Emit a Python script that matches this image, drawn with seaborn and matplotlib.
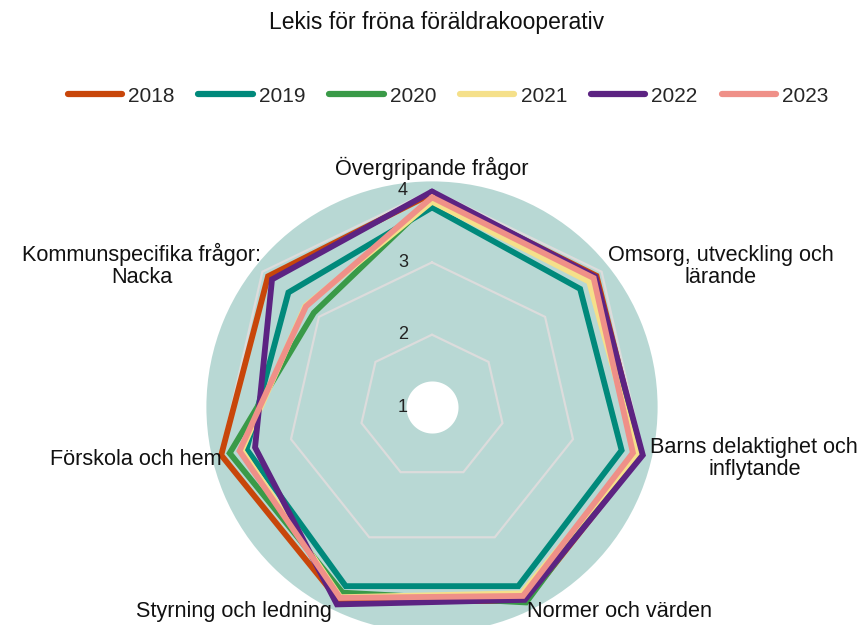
import numpy as np
import pandas as pd
import matplotlib
matplotlib.use("Agg")
import matplotlib.pyplot as plt
import seaborn as sns

categories = [
    "Övergripande frågor",
    "Omsorg, utveckling och\nlärande",
    "Barns delaktighet och\ninflytande",
    "Normer och värden",
    "Styrning och ledning",
    "Förskola och hem",
    "Kommunspecifika frågor:\nNacka",
]
years = ["2018", "2019", "2020", "2021", "2022", "2023"]
v2018 = [3.95, 3.91, 3.97, 3.98, 3.97, 3.99, 3.90]
v2019 = [3.76, 3.62, 3.69, 3.75, 3.75, 3.63, 3.54]
v2020 = [3.87, 3.88, 3.90, 4.00, 3.85, 3.87, 3.09]
v2021 = [3.84, 3.78, 3.91, 3.86, 3.92, 3.70, 3.24]
v2022 = [3.98, 3.89, 3.99, 3.96, 4.03, 3.51, 3.83]
v2023 = [3.90, 3.86, 3.85, 3.90, 3.93, 3.73, 3.23]
series = [v2018, v2019, v2020, v2021, v2022, v2023]
colors = ["#c8460a", "#00897b", "#3a9a48", "#f5e08a", "#5c2382", "#ef9088"]
ticks = [1, 2, 3, 4]
title = "Lekis för fröna föräldrakooperativ"

sns.set_theme(style="white")
plt.rcParams["font.family"] = ["Liberation Sans", "DejaVu Sans"]

n = len(categories)
angles = np.linspace(0, 2 * np.pi, n, endpoint=False)
closed = np.append(angles, angles[0])

rows = []
for y, vals in zip(years, series):
    for i, a in enumerate(closed):
        rows.append({"year": y, "theta": a, "value": vals[i % n], "order": i})
df = pd.DataFrame(rows)

W, H = 863, 625
fig = plt.figure(figsize=(W / 100, H / 100), dpi=100)
cx, cy, R = 432, 407, 225.6
ax = fig.add_axes([(cx - R) / W, (H - cy - R) / H, 2 * R / W, 2 * R / H], projection="polar")
ax.set_theta_offset(np.pi / 2)
ax.set_theta_direction(-1)
ax.set_ylim(1, 4.12)
ax.set_facecolor("#b8d8d4")
ax.spines["polar"].set_visible(False)
ax.grid(False)
ax.set_xticks([])
ax.set_yticks([])

# polygon gridlines
for t in ticks[1:]:
    ax.plot(closed, [t] * len(closed), color="#dcdcdc", lw=1.6, zorder=1)

# white hole in center
circ = np.linspace(0, 2 * np.pi, 200)
ax.fill_between(circ, 1, 1.36, color="white", zorder=1.5, lw=0)

sns.lineplot(data=df, x="theta", y="value", hue="year", palette=colors,
             sort=False, estimator=None, lw=4.2, ax=ax, legend=False, zorder=3)
for l in ax.lines:
    l.set_solid_joinstyle("miter")

# radial tick labels
for t in ticks:
    ax.annotate(str(t), xy=(0, t), xytext=(-29, 0), textcoords="offset pixels",
                ha="center", va="center", fontsize=13, color="#222222", zorder=5)

# category labels
lab_specs = [
    ((0, 22), "center"),
    ((6, 5), "left"),
    ((7, -3), "left"),
    ((1, -9), "left"),
    ((-6, -9), "right"),
    ((1, -4), "right"),
    ((-1, 6), "right"),
]
for a, lab, (off, ha) in zip(angles, categories, lab_specs):
    ax.annotate(lab, xy=(a, 4.0), xytext=off, textcoords="offset pixels",
                ha=ha, va="center", multialignment="center", fontsize=15.6,
                linespacing=1.05, color="#111111", annotation_clip=False)

fig.text(437 / W, 1 - 23 / H, title, ha="center", va="center", fontsize=16.5, color="#111111")

handles = [plt.Line2D([0], [0], color=c, lw=4.5, solid_capstyle="round") for c in colors]
fig.legend(handles, years, loc="center", bbox_to_anchor=(448 / W, 1 - 96 / H), ncol=6,
           frameon=False, fontsize=15, handlelength=2.6, handletextpad=0.3,
           columnspacing=1.15)

fig.savefig("out.png", dpi=100)
